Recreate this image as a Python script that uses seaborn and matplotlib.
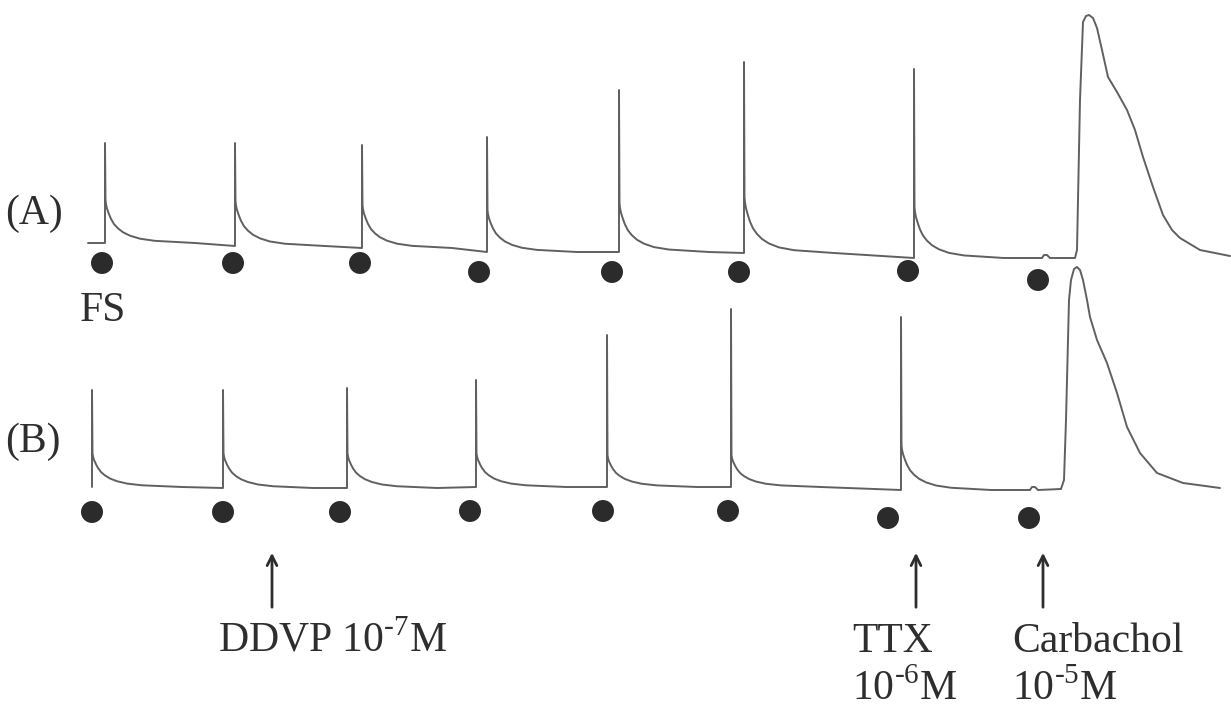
import matplotlib
matplotlib.use("Agg")
import matplotlib.pyplot as plt
import pandas as pd
import seaborn as sns

# 시간 축: 임의 단위, 장력: 기준선 대비 임의 단위

# (A) 트레이스 - 전기자극(FS)에 의한 수축
a_start = (0.8, 1.5)
a_spike_t = [2.5, 15.5, 28.2, 40.7, 53.9, 66.4, 83.4]
a_base = [1.5, 1.2, 1.0, 0.6, 0.6, 0.5, 0.0]
a_peak = [11.5, 11.5, 11.3, 12.1, 16.8, 19.6, 18.9]
a_shoulder = [5.8, 5.7, 5.3, 4.8, 5.5, 6.1, 5.1]
a_tail_t = [96.2, 96.4, 96.7, 97.0, 99.5, 99.7, 100.0, 100.3, 100.6, 100.9, 101.3, 101.7,
            102.2, 102.8, 103.7, 104.7, 105.5, 106.3, 107.3, 108.3, 109.2, 110.0, 112.0, 115.0]
a_tail_y = [0.0, 0.3, 0.3, 0.0, 0.0, 0.8, 15.8, 23.6, 24.2, 24.3, 24.0, 23.0,
            20.8, 18.1, 16.6, 14.8, 12.8, 10.1, 7.1, 4.3, 2.8, 2.0, 0.8, 0.2]
a_dot_t = [2.2, 15.3, 28.0, 39.9, 53.2, 65.9, 82.8, 95.8]
a_dot_y = [-0.5, -0.5, -0.5, -1.4, -1.4, -1.4, -1.3, -2.2]

# (B) 트레이스 - DDVP 처리 후
b_start = (1.2, 0.3)
b_spike_t = [1.2, 14.3, 26.7, 39.6, 52.7, 65.1, 82.1]
b_base = [0.3, 0.2, 0.2, 0.3, 0.3, 0.3, 0.0]
b_peak = [10.0, 10.0, 10.2, 11.0, 15.5, 18.1, 17.3]
b_shoulder = [3.7, 3.7, 3.7, 3.7, 3.5, 3.5, 4.5]
b_tail_t = [95.0, 95.2, 95.5, 95.8, 98.1, 98.4, 98.6, 98.9, 99.1, 99.4, 99.7, 100.0, 100.3,
            100.7, 101.0, 101.7, 102.7, 103.7, 104.7, 106.0, 107.7, 110.3, 114.0]
b_tail_y = [0.0, 0.3, 0.3, 0.0, 0.1, 1.0, 7.0, 19.0, 21.0, 22.1, 22.3, 22.0, 21.0,
            19.0, 17.3, 15.0, 12.7, 9.7, 6.3, 3.7, 1.7, 0.7, 0.2]
b_dot_t = [1.2, 14.3, 26.0, 39.0, 52.3, 64.8, 80.8, 94.9]
b_dot_y = [-2.2, -2.2, -2.2, -2.1, -2.1, -2.1, -2.8, -2.8]

# 수축 후 이완 모양 (첫 번째 수축에서 읽은 상대값)
decay_dt = [0.05, 0.1, 0.2, 0.4, 0.6, 0.9, 1.3, 1.8, 2.5, 3.5, 5.0, 9.0]
decay_frac = [1.0, 0.9, 0.8, 0.67, 0.56, 0.44, 0.34, 0.25, 0.17, 0.1, 0.05, 0.0]

# 약물 투여 시점
drug_t = [19.2, 83.6, 96.3]


def build_trace(start, spike_t, base, peak, shoulder, tail_t, tail_y):
    t, y = [start[0]], [start[1]]
    for i in range(len(spike_t)):
        t += [spike_t[i], spike_t[i]]
        y += [base[i], peak[i]]
        for dt, f in zip(decay_dt, decay_frac):
            t.append(spike_t[i] + dt)
            y.append(base[i] + (shoulder[i] - base[i]) * f)
    t += tail_t
    y += tail_y
    return pd.DataFrame({'t': t, 'tension': y})


df_a = build_trace(a_start, a_spike_t, a_base, a_peak, a_shoulder, a_tail_t, a_tail_y)
df_b = build_trace(b_start, b_spike_t, b_base, b_peak, b_shoulder, b_tail_t, b_tail_y)

sns.set_style('white')
plt.rcParams['font.family'] = ['Liberation Serif', 'DejaVu Serif']
plt.rcParams['mathtext.fontset'] = 'custom'
plt.rcParams['mathtext.rm'] = 'Liberation Serif'

W, H = 1231, 712
fig = plt.figure(figsize=(W / 100, H / 100), dpi=100)
ax_a = fig.add_axes([0, 1 - 300 / H, 1, 300 / H])
ax_b = fig.add_axes([0, 1 - 540 / H, 1, 290 / H])
for ax in (ax_a, ax_b):
    ax.patch.set_alpha(0)
    ax.set_xlim(-8.0, 115.1)
    ax.set_axis_off()
ax_a.set_ylim(-4.2, 25.8)
ax_b.set_ylim(-5.0, 24.0)

trace_color = '#606060'
dot_color = '#2b2b2b'
text_color = '#2e2e2e'

sns.lineplot(data=df_a, x='t', y='tension', sort=False, estimator=None,
             color=trace_color, lw=1.4, ax=ax_a)
sns.lineplot(data=df_b, x='t', y='tension', sort=False, estimator=None,
             color=trace_color, lw=1.4, ax=ax_b)
sns.scatterplot(x=a_dot_t, y=a_dot_y, s=250, color=dot_color, edgecolor='none', ax=ax_a)
sns.scatterplot(x=b_dot_t, y=b_dot_y, s=250, color=dot_color, edgecolor='none', ax=ax_b)

# 약물 투여 화살표
for t in drug_t:
    ax_b.annotate('', xy=(t, 1 - 550 / H), xycoords=('data', 'figure fraction'),
                  xytext=(t, 1 - 610 / H), textcoords=('data', 'figure fraction'),
                  arrowprops=dict(arrowstyle='->,head_length=0.7,head_width=0.35',
                                  lw=2, color=text_color),
                  annotation_clip=False)


def label(x, y, s):
    fig.text(x / W, 1 - y / H, s, fontsize=30, color=text_color, ha='left', va='baseline')


label(5, 224, '(A)')
label(5, 452, '(B)')
label(80, 321, 'FS')
label(218, 652, r'DDVP 10$^{\text{-7}}$M')
label(852, 652, 'TTX')
label(852, 700, r'10$^{\text{-6}}$M')
label(1012, 652, 'Carbachol')
label(1012, 700, r'10$^{\text{-5}}$M')

plt.savefig('out.png', dpi=100)
